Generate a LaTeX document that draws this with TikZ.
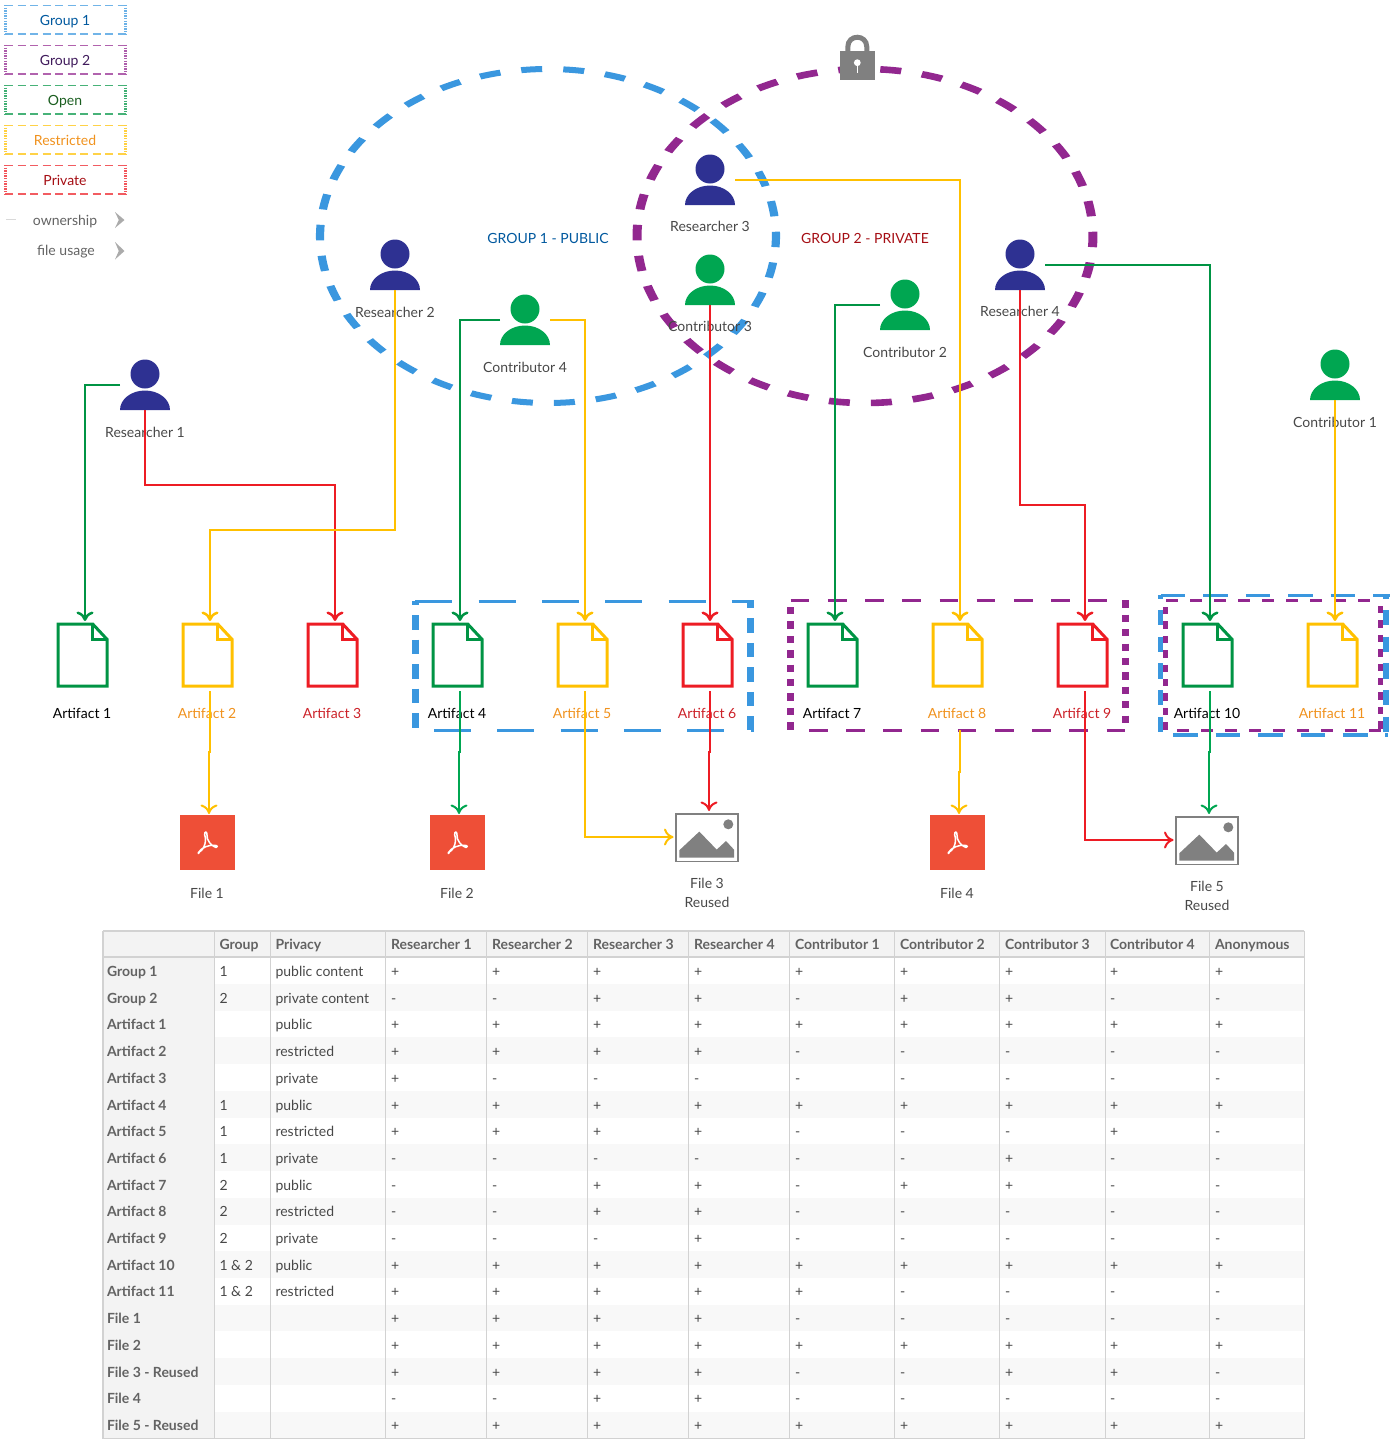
\documentclass[tikz,border=0pt]{standalone}
\usepackage{fontspec}
\setmainfont{Lato}
\usetikzlibrary{arrows.meta,calc}
\definecolor{cblue}{HTML}{3A97DF}
\definecolor{cpurple}{HTML}{92278F}
\definecolor{cgreen}{HTML}{009444}
\definecolor{pgreen}{HTML}{00A651}
\definecolor{cyellow}{HTML}{FFC000}
\definecolor{cred}{HTML}{ED1C24}
\definecolor{cnavy}{HTML}{2E3192}
\definecolor{tgrey}{HTML}{484848}
\definecolor{torange}{HTML}{F0921E}
\definecolor{tred}{HTML}{CC2229}
\definecolor{tblue}{HTML}{00589E}
\definecolor{tpurple}{HTML}{3F1A5B}
\definecolor{tgreen}{HTML}{1B5E20}
\definecolor{tdred}{HTML}{A50E14}
\definecolor{gline}{HTML}{D2D2D2}
\definecolor{gstripe}{HTML}{F8F8F8}
\definecolor{ghead}{HTML}{F3F3F3}
\definecolor{iconred}{HTML}{EE4F37}
\definecolor{icongrey}{HTML}{808080}
\tikzset{
  x=1pt,y=-1pt,
  txt/.style={inner sep=0pt,outer sep=0pt,font=\fontsize{14}{18}\selectfont,text=tgrey,text height=10.4pt,text depth=0pt},
  cell/.style={txt,anchor=west},
  headcell/.style={cell,font=\fontsize{14}{18}\selectfont\bfseries,text=tgrey!85!white},
  gs/.style n args={5}{draw=#1,line width=#2pt,dash pattern=on #3pt off #4pt,dash phase=#5pt},
  own/.style={line width=1.7pt,-{Computer Modern Rightarrow[width=17pt,length=9.5pt,line width=2.5pt]}},
  use/.style={line width=1.15pt,-{Computer Modern Rightarrow[width=17pt,length=9.5pt,line width=2pt]}},
  slot/.style={inner sep=0pt,outer sep=0pt,minimum width=#1pt},
  chev/.style={fill=black!33,draw=none},
  ell/.style={line width=#1pt,dash pattern=on 15.4pt off 15.46pt},
}
% person icon: name, x, base y, colour, label, label y
\newcommand\personicon[6]{%
  \node[slot=50,minimum height=50pt] (#1) at (#2,#3-25) {};
  \fill[#4] (#2,#3-36) circle[radius=14.5pt];
  \fill[#4] (#2-25,#3) .. controls (#2-25,#3-10.8) and (#2-13.8,#3-19.5) .. (#2,#3-19.5)
     .. controls (#2+13.8,#3-19.5) and (#2+25,#3-10.8) .. (#2+25,#3) -- cycle;
  \node[txt] (#1l) at (#2,#6) {#5};
}
% artifact icon: name, arrow x, colour, text colour, label
\newcommand\artifacticon[5]{%
  \node[slot=56,minimum height=70pt] (#1) at (#2,656) {};
  \draw[#3,line width=3pt] (#2+7.7,624) -- (#2-27,624) -- (#2-27,686) -- (#2+22,686) -- (#2+22,639.3) -- cycle;
  \draw[#3,line width=3pt] (#2+7.7,624) -- (#2+7.7,639.3) -- (#2+22,639.3);
  \node[txt,text=#4] (#1l) at (#2-3,712.8) {#5};
}
% pdf icon: name, arrow x, label
\newcommand\pdficon[3]{%
  \node[slot=58,minimum height=56pt] (#1) at (#2,842) {};
  \fill[iconred] (#2-29,815) rectangle (#2+26,870);
  \begin{scope}[shift={(#2-1.5,842.5)}]
    \draw[white,line width=1.5pt,line join=round,line cap=round]
      (-9.2,10.2) .. controls (-5,9) and (0,0) .. (-2.8,-7.5) .. controls (-3.5,-11.5) and (-0.2,-11.5) .. (-0.5,-7.5)
      .. controls (-1,-2) and (4,3.5) .. (8.5,5) .. controls (10.5,5) and (10.5,2.8) .. (7,2.8)
      .. controls (1,2.3) and (-6,5) .. (-9.2,10.2) .. controls (-9.8,11) and (-8.8,11.2) .. (-8.2,10.2);
  \end{scope}
  \node[txt] (#1l) at (#2-2,893) {#3};
}
% image icon: name, arrow x, y of the left entry, left edge of frame, top edge of frame, first label, its y
\newcommand\imageicon[7]{%
  \node[slot=71,minimum height=52pt] (#1) at (#2,#3) {};
  \begin{scope}[shift={(#4,#5)}]
    \draw[icongrey,line width=1.7pt] (0.8,0.8) rectangle (63.2,48.6);
    \fill[icongrey] (4.3,44.6) -- (4.3,37.3) -- (24.3,18.6) -- (41.7,36.6) -- (51,28) -- (59,36.6) -- (59,44.6) -- cycle;
    \fill[icongrey] (53.3,11.3) circle[radius=5pt];
  \end{scope}
  \node[txt] (#1l) at (#4+32,#7) {#6};
  \node[txt] (#1m) at (#4+32,#7+19) {Reused};
}
% table row
\newcommand\trow[5]{%
  \pgfmathsetmacro\rowy{971.3+(#1-1)*26.7}
  \node[headcell] (lab#1) at (107,\rowy) {#2};
  \node[cell] (grp#1) at (219.5,\rowy) {#3};
  \node[cell] (pri#1) at (275.5,\rowy) {#4};
  \foreach \v [count=\c] in {#5} {
    \pgfmathsetmacro\cx{{391,492,593,694,795,900,1005,1110,1215}[\c-1]}
    \node[cell] (c#1-\c) at (\cx,\rowy) {\v};
  }
}
\begin{document}
\begin{tikzpicture}
\useasboundingbox (0,0) rectangle (1390,1445);
% ---- legend
\foreach \yy/\cl/\tc/\lb/\nm in {5/3A97DF/tblue/Group 1/lgA,45/92278F/tpurple/Group 2/lgB,85/009444/tgreen/Open/lgC,125/FFC000/torange/Restricted/lgD,165/ED1C24/tdred/Private/lgE}{
  \definecolor{lc}{HTML}{\cl}
  \draw[gs={lc!72!white}{1.1}{8}{4.5}{0}] (5,\yy+0.5) -- (126,\yy+0.5);
  \draw[gs={lc!72!white}{1.1}{8}{4.5}{0}] (5,\yy+29) -- (126,\yy+29);
  \draw[gs={lc!75!white}{2.4}{1.4}{1.2}{0}] (5.5,\yy) -- (5.5,\yy+29.5);
  \draw[gs={lc!75!white}{2.4}{1.4}{1.2}{0}] (125.5,\yy) -- (125.5,\yy+29.5);
  \node[txt,text=\tc] (\nm) at (65,\yy+15) {\lb};
}
\coordinate (lgOwnA) at (6,219.5);
\coordinate (lgOwnB) at (16,219.5);
\draw[black!15,line width=1pt] (lgOwnA) -- (lgOwnB);
\node[txt,text=tgrey!85!white] (lgOwn) at (65,220.5) {ownership};
\node[txt,text=tgrey!85!white] (lgUse) at (66,250.5) {file usage};
\fill[chev] (115,212) -- (124.5,220) -- (115,228) -- (118.8,220) -- cycle;
\fill[chev] (115,242) -- (124.5,251) -- (115,259.5) -- (118.8,251) -- cycle;
% ---- group ellipses
\begin{scope}[transform canvas={shift={(865,236)},xscale=1.365}]
  \draw[cpurple,ell=6.6,x=1pt,y=1pt] (176.2:167pt) arc[start angle=176.2,delta angle=360,radius=167pt];
\end{scope}
\begin{scope}[transform canvas={shift={(548,236)},xscale=1.365}]
  \draw[cblue,ell=6,x=1pt,y=1pt] (176.2:167pt) arc[start angle=176.2,delta angle=360,radius=167pt];
\end{scope}
% lock
\draw[icongrey,line width=5pt] (847.8,52) -- (847.8,47) .. controls (847.8,34) and (866.8,34) .. (866.8,47) -- (866.8,52);
\fill[icongrey] (840,51) rectangle (875,80);
\fill[white] (857.3,62.7) circle[radius=3.4pt];
\draw[white,line width=1.5pt] (857.3,63) -- (857.3,73);
\node[txt,text=tblue] (g1l) at (548,238) {GROUP 1 - PUBLIC};
\node[txt,text=tdred] (g2l) at (865,238) {GROUP 2 - PRIVATE};
% ---- group boxes
\draw[gs={cblue}{3}{37}{26.3}{0}] (415.4,601) -- (754,601);
\draw[gs={cblue}{3}{37}{26.3}{0}] (434,730.3) -- (754,730.3);
\draw[gs={cblue}{7}{14.5}{10}{10.5}] (415,601) -- (415,730);
\draw[gs={cblue}{7}{14.5}{10}{7.2}] (750.5,601) -- (750.5,730);
\draw[gs={cpurple}{3}{18.6}{18.6}{0}] (790.7,600.3) -- (1107,600.3);
\draw[gs={cpurple}{3}{18.6}{18.6}{0}] (809,730.3) -- (1126,730.3);
\draw[gs={cpurple}{7}{7.3}{7.1}{0}] (790.3,607) -- (790.3,731);
\draw[gs={cpurple}{7}{7.3}{7.1}{0}] (1125.3,600.3) -- (1125.3,724);
\draw[gs={cblue}{3.3}{24.4}{18}{0}] (1161,595.3) -- (1390,595.3);
\draw[gs={cblue}{3.3}{24.6}{17.8}{0}] (1173.3,735) -- (1388,735);
\draw[gs={cblue}{5.5}{15.3}{11.4}{11.7}] (1160.7,595) -- (1160.7,733);
\draw[gs={cblue}{5.5}{15.3}{11.4}{11.7}] (1386,595) -- (1386,733);
\draw[gs={cpurple}{3}{11.5}{12.5}{0}] (1166,600) -- (1381,600);
\draw[gs={cpurple}{3}{12}{12}{0}] (1177,730.3) -- (1382,730.3);
\draw[gs={cpurple}{4.5}{7.3}{7.1}{0}] (1165.3,607) -- (1165.3,731);
\draw[gs={cpurple}{4.5}{7.3}{7.1}{0}] (1380.3,606) -- (1380.3,731);
% ---- people
\personicon{R1}{145}{410}{cnavy}{Researcher 1}{432.7}
\personicon{R2}{395}{290}{cnavy}{Researcher 2}{312.7}
\personicon{R3}{710}{205}{cnavy}{Researcher 3}{226}
\personicon{R4}{1020}{290}{cnavy}{Researcher 4}{311}
\personicon{C1}{1335}{400}{pgreen}{Contributor 1}{422.7}
\personicon{C2}{905}{330}{pgreen}{Contributor 2}{352.7}
\personicon{C3}{710}{305}{pgreen}{Contributor 3}{325.8}
\personicon{C4}{525}{345}{pgreen}{Contributor 4}{367.7}
% ---- artifacts
\artifacticon{A1}{85}{cgreen}{black}{Artifact 1}
\artifacticon{A2}{210}{cyellow}{torange}{Artifact 2}
\artifacticon{A3}{335}{cred}{tred}{Artifact 3}
\artifacticon{A4}{460}{cgreen}{black}{Artifact 4}
\artifacticon{A5}{585}{cyellow}{torange}{Artifact 5}
\artifacticon{A6}{710}{cred}{tred}{Artifact 6}
\artifacticon{A7}{835}{cgreen}{black}{Artifact 7}
\artifacticon{A8}{960}{cyellow}{torange}{Artifact 8}
\artifacticon{A9}{1085}{cred}{tred}{Artifact 9}
\artifacticon{A10}{1210}{cgreen}{black}{Artifact 10}
\artifacticon{A11}{1335}{cyellow}{torange}{Artifact 11}
% ---- files
\pdficon{F1}{209}{File 1}
\pdficon{F2}{459}{File 2}
\pdficon{F4}{959}{File 4}
\imageicon{F3}{709}{837}{675}{813}{File 3}{883.3}
\imageicon{F5}{1209}{840}{1175}{816}{File 5}{886.3}
% ---- ownership connectors
\draw[own,cgreen] (R1.west) -| (A1.north);
\draw[own,cred] (R1.south) -- ++(0,75) -| (A3.north);
\draw[own,cyellow] (R2.south) -- ++(0,240) -| (A2.north);
\draw[own,cgreen] (C4.west) -| (A4.north);
\draw[own,cyellow] (C4.east) -| (A5.north);
\draw[own,cyellow] (R3.east) -| (A8.north);
\draw[own,cred] (C3.south) -- (A6.north);
\draw[own,cgreen] (C2.west) -| (A7.north);
\draw[own,cred] (R4.south) -- ++(0,215) -| (A9.north);
\draw[own,cgreen] (R4.east) -| (A10.north);
\draw[own,cyellow] (C1.south) -- (A11.north);
% ---- file usage connectors
\draw[use,cyellow] (A2.south) -- ++(0,61) -| (F1.north);
\draw[use,pgreen] (A4.south) -- ++(0,61) -| (F2.north);
\draw[use,cyellow] (A5.south) |- (F3.west);
\draw[use,cred] (A6.south) -- ++(0,61) -| (F3.north);
\draw[use,cyellow] ([yshift=-39pt]A8.south) -- ++(0,42) -| (F4.north);
\draw[use,cred] (A9.south) |- (F5.west);
\draw[use,pgreen] (A10.south) -- ++(0,61) -| (F5.north);
% ---- table
\fill[ghead] (103,931) rectangle (1304,957);
\fill[ghead] (103,957) rectangle (215,1438);
\foreach \r in {2,4,...,18}{
  \fill[gstripe] (215,957.3+\r*26.72-26.72) rectangle (1304,957.3+\r*26.72);
}
\foreach \xx in {270.5,385.5,486.5,587.5,688.5,789.5,894.5,999.5,1105.5,1209.5}{
  \draw[gline,line width=1.2pt] (\xx,931) -- (\xx,1438);
}
\draw[gline,line width=1.8pt] (214.5,931) -- (214.5,1438);
\draw[gline,line width=1.8pt] (103,957) -- (1304,957);
\draw[gline,line width=1.8pt] (103,931) -- (1304,931);
\draw[gline,line width=1.8pt] (103,1438.5) -- (1304,1438.5);
\draw[gline,line width=1.8pt] (103,931) -- (103,1438.5);
\draw[gline,line width=1.2pt] (1304.5,931) -- (1304.5,1438.5);
\foreach \tt/\xx/\nn in {Group/219.5/hA,Privacy/275.5/hB,Researcher 1/391/hC,Researcher 2/492/hD,Researcher 3/593/hE,Researcher 4/694/hF,Contributor 1/795/hG,Contributor 2/900/hH,Contributor 3/1005/hI,Contributor 4/1110/hJ,Anonymous/1215/hK}{
  \node[headcell] (\nn) at (\xx,944.5) {\tt};
}
\trow{1}{Group 1}{1}{public content}{+,+,+,+,+,+,+,+,+}
\trow{2}{Group 2}{2}{private content}{-,-,+,+,-,+,+,-,-}
\trow{3}{Artifact 1}{}{public}{+,+,+,+,+,+,+,+,+}
\trow{4}{Artifact 2}{}{restricted}{+,+,+,+,-,-,-,-,-}
\trow{5}{Artifact 3}{}{private}{+,-,-,-,-,-,-,-,-}
\trow{6}{Artifact 4}{1}{public}{+,+,+,+,+,+,+,+,+}
\trow{7}{Artifact 5}{1}{restricted}{+,+,+,+,-,-,-,+,-}
\trow{8}{Artifact 6}{1}{private}{-,-,-,-,-,-,+,-,-}
\trow{9}{Artifact 7}{2}{public}{-,-,+,+,-,+,+,-,-}
\trow{10}{Artifact 8}{2}{restricted}{-,-,+,+,-,-,-,-,-}
\trow{11}{Artifact 9}{2}{private}{-,-,-,+,-,-,-,-,-}
\trow{12}{Artifact 10}{1 \& 2}{public}{+,+,+,+,+,+,+,+,+}
\trow{13}{Artifact 11}{1 \& 2}{restricted}{+,+,+,+,+,-,-,-,-}
\trow{14}{File 1}{}{}{+,+,+,+,-,-,-,-,-}
\trow{15}{File 2}{}{}{+,+,+,+,+,+,+,+,+}
\trow{16}{File 3 - Reused}{}{}{+,+,+,+,-,-,+,+,-}
\trow{17}{File 4}{}{}{-,-,+,+,-,-,-,-,-}
\trow{18}{File 5 - Reused}{}{}{+,+,+,+,+,+,+,+,+}
\end{tikzpicture}
\end{document}
